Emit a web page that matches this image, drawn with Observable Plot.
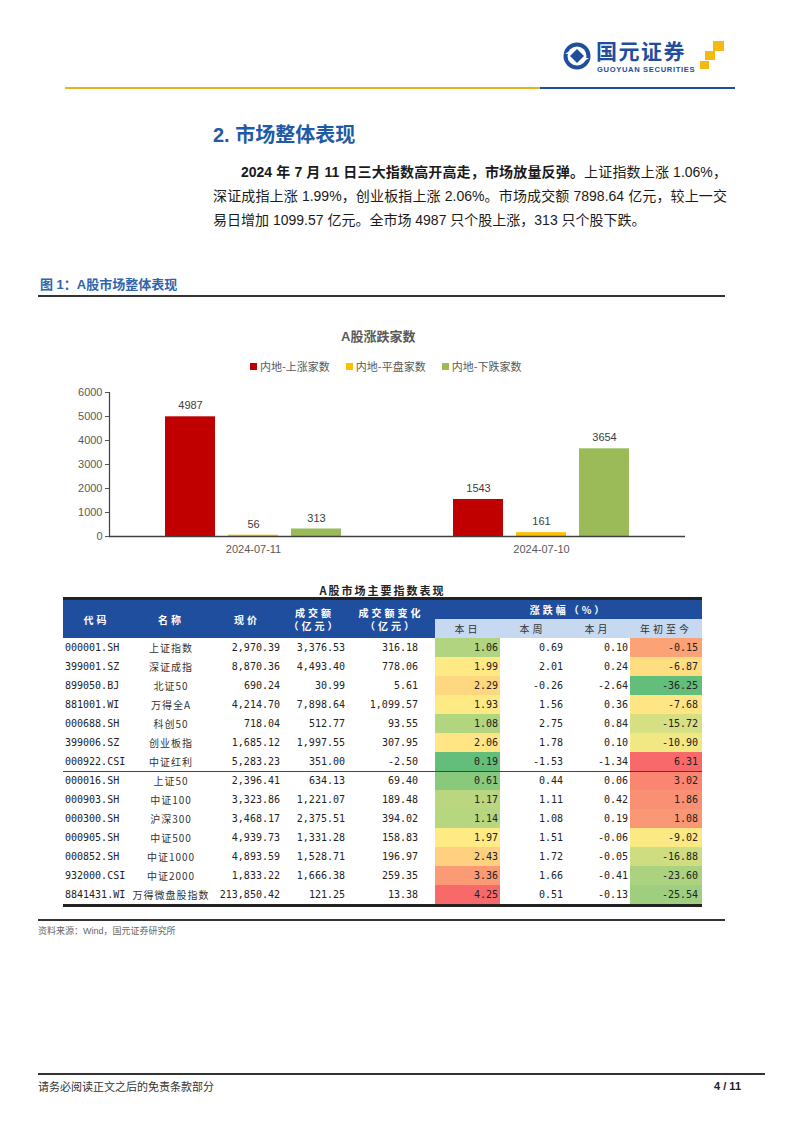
<!DOCTYPE html>
<html>
<head>
<meta charset="utf-8">
<script src="https://cdn.jsdelivr.net/npm/d3@7"></script>
<script src="https://cdn.jsdelivr.net/npm/@observablehq/plot@0.6"></script>
<style>
  html, body { margin: 0; padding: 0; background: #fff; }
  body { width: 802px; height: 1133px; position: relative; overflow: hidden;
         font-family: "Liberation Sans", "Noto Sans CJK SC", sans-serif; color: #222; }
  .abs { position: absolute; white-space: nowrap; }
  .para { position: absolute; left: 213px; width: 514px; font-size: 14px; line-height: 24px; color: #1a1a1a; }
  .para div { text-align: justify; text-align-last: justify; white-space: nowrap; }
  .para div.last { text-align-last: left; }
  table.idx { position: absolute; left: 63px; top: 600px; width: 639px; border-collapse: separate; border-spacing: 0;
              table-layout: fixed; font-family: "DejaVu Sans Mono", "Noto Sans CJK SC", monospace; font-size: 10px; color: #222; }
  table.idx th { background: #1F4E9E; color: #fff; font-family: "Noto Sans CJK SC", sans-serif; font-weight: bold;
                 font-size: 10px; letter-spacing: 3px; height: 19px; padding: 0; line-height: 13px; text-align: center; }
  table.idx th.sub { background: #C6D9F0; color: #333; font-weight: normal; }
  table.idx td { height: 19px; padding: 0; line-height: 19px; white-space: nowrap; overflow: visible; }
  td.code { text-align: left; padding-left: 2px !important; }
  td.name { text-align: center; font-family: "Noto Sans CJK SC", sans-serif; letter-spacing: 1px; color: #333; }
  td.num { text-align: right; padding-right: 2px !important; }
  td.chg { text-align: right; padding-right: 17px !important; }
  td.ytd { text-align: right; padding-right: 4px !important; }
  tr.sep td { box-shadow: inset 0 1px 0 #444; }
  .legend { position: absolute; left: 250px; top: 358px; font-family: "Noto Sans CJK SC", sans-serif; font-size: 11px;
            color: #595959; display: flex; gap: 16px; line-height: 16px; }
  .legend span.sw { display: inline-block; width: 7px; height: 7px; margin-right: 3px; vertical-align: 1px; }
</style>
</head>
<body>
<!-- header -->
<svg class="abs" style="left:562px;top:41px" width="30" height="30" viewBox="0 0 30 30">
  <circle cx="15" cy="15" r="13.5" fill="#1E4E9C"/>
  <circle cx="15" cy="15" r="9.5" fill="#fff"/>
  <path d="M15 8 L22 15 L15 22 L8 15 Z" fill="#1E4E9C"/>
  <path d="M3 13 L9 9 L9 13 Z" fill="#fff"/>
  <path d="M27 17 L21 21 L21 17 Z" fill="#fff"/>
</svg>
<div class="abs" style="left:596px;top:39px;font-family:'Noto Sans CJK SC';font-weight:bold;font-size:21px;line-height:22px;color:#1E4E9C;letter-spacing:1.5px">国元证券</div>
<div class="abs" style="left:597px;top:66px;font-family:'Liberation Sans';font-weight:bold;font-size:7.6px;line-height:8px;color:#1E4E9C;letter-spacing:0.65px">GUOYUAN SECURITIES</div>
<div class="abs" style="left:713px;top:41px;width:11px;height:10px;background:#F5B90F"></div>
<div class="abs" style="left:705px;top:51px;width:10px;height:9px;background:#F5B90F"></div>
<div class="abs" style="left:700px;top:61px;width:9px;height:8px;background:#F5B90F"></div>
<div class="abs" style="left:65px;top:87px;width:475px;height:2px;background:#E9B21E"></div>
<div class="abs" style="left:540px;top:87px;width:195px;height:2px;background:#1E4E9C"></div>

<!-- section title and paragraph -->
<div class="abs" style="left:213px;top:120px;font-size:20px;line-height:28px;font-weight:bold;color:#1F5AA6">2. <span style="font-family:'Noto Sans CJK SC'">市场整体表现</span></div>
<div class="para" style="top:160px">
  <div style="padding-left:28px"><b>2024 年 7 月 11 日三大指数高开高走，市场放量反弹。</b>上证指数上涨 1.06%，</div>
  <div>深证成指上涨 1.99%，创业板指上涨 2.06%。市场成交额 7898.64 亿元，较上一交</div>
  <div class="last">易日增加 1099.57 亿元。全市场 4987 只个股上涨，313 只个股下跌。</div>
</div>

<!-- figure title -->
<div class="abs" style="left:40px;top:275px;font-size:13px;line-height:18px;font-weight:bold;color:#2F64AE">图 1：A<span style="font-family:'Noto Sans CJK SC'">股市场整体表现</span></div>
<div class="abs" style="left:38px;top:295px;width:687px;height:2px;background:#333"></div>

<!-- chart title & legend -->
<div class="abs" style="left:341px;top:327px;font-size:13px;line-height:18px;font-weight:bold;color:#595959">A<span style="font-family:'Noto Sans CJK SC'">股涨跌家数</span></div>
<div class="legend" id="legend"></div>
<div class="abs" id="chart" style="left:0;top:380px"></div>

<!-- table -->
<div class="abs" style="left:63px;top:582px;width:639px;text-align:center;font-family:'Noto Sans CJK SC';font-weight:bold;font-size:11px;line-height:16px;letter-spacing:2px;color:#222">A股市场主要指数表现</div>
<div class="abs" style="left:63px;top:597px;width:639px;height:3px;background:#222"></div>
<table class="idx" id="tbl">
  <colgroup>
    <col style="width:67px"><col style="width:82px"><col style="width:70px"><col style="width:65px"><col style="width:88px">
    <col style="width:65px"><col style="width:65px"><col style="width:65px"><col style="width:72px">
  </colgroup>
  <thead id="thead"></thead>
  <tbody id="tbody"></tbody>
</table>
<div class="abs" style="left:63px;top:904px;width:639px;height:2.5px;background:#222"></div>

<!-- source -->
<div class="abs" style="left:38px;top:919px;width:687px;height:2px;background:#333"></div>
<div class="abs" style="left:38px;top:925px;font-size:9px;line-height:12px;color:#666">资料来源：Wind，国元证券研究所</div>

<!-- footer -->
<div class="abs" style="left:38px;top:1073px;width:727px;height:2px;background:#333"></div>
<div class="abs" style="left:38px;top:1079px;font-family:'Noto Sans CJK SC';font-size:11px;line-height:15px;color:#333">请务必阅读正文之后的免责条款部分</div>
<div class="abs" style="left:700px;top:1079px;width:41px;text-align:right;font-weight:bold;font-size:11px;line-height:15px;color:#222">4 / 11</div>

<script>
// ---------- chart data ----------
const dates = ["2024-07-11", "2024-07-10"];
const series = ["内地-上涨家数", "内地-平盘家数", "内地-下跌家数"];
const upCounts = [4987, 1543];
const flatCounts = [56, 161];
const downCounts = [313, 3654];
const seriesColors = ["#C00000", "#FFC000", "#9BBB59"];
const yTicks = [0, 1000, 2000, 3000, 4000, 5000, 6000];

// ---------- table data ----------
const tableHeaders = ["代码", "名称", "现价", "成交额", "成交额变化"];
const unitLabel = "（亿元）";
const chgHeader = "涨跌幅（%）";
const chgSubHeaders = ["本日", "本周", "本月", "年初至今"];
const codes = ["000001.SH", "399001.SZ", "899050.BJ", "881001.WI", "000688.SH", "399006.SZ", "000922.CSI",
               "000016.SH", "000903.SH", "000300.SH", "000905.SH", "000852.SH", "932000.CSI", "8841431.WI"];
const names = ["上证指数", "深证成指", "北证50", "万得全A", "科创50", "创业板指", "中证红利",
               "上证50", "中证100", "沪深300", "中证500", "中证1000", "中证2000", "万得微盘股指数"];
const prices = [2970.39, 8870.36, 690.24, 4214.70, 718.04, 1685.12, 5283.23,
                2396.41, 3323.86, 3468.17, 4939.73, 4893.59, 1833.22, 213850.42];
const turnover = [3376.53, 4493.40, 30.99, 7898.64, 512.77, 1997.55, 351.00,
                  634.13, 1221.07, 2375.51, 1331.28, 1528.71, 1666.38, 121.25];
const turnoverChange = [316.18, 778.06, 5.61, 1099.57, 93.55, 307.95, -2.50,
                        69.40, 189.48, 394.02, 158.83, 196.97, 259.35, 13.38];
const chgDay = [1.06, 1.99, 2.29, 1.93, 1.08, 2.06, 0.19, 0.61, 1.17, 1.14, 1.97, 2.43, 3.36, 4.25];
const chgWeek = [0.69, 2.01, -0.26, 1.56, 2.75, 1.78, -1.53, 0.44, 1.11, 1.08, 1.51, 1.72, 1.66, 0.51];
const chgMonth = [0.10, 0.24, -2.64, 0.36, 0.84, 0.10, -1.34, 0.06, 0.42, 0.19, -0.06, -0.05, -0.41, -0.13];
const chgYtd = [-0.15, -6.87, -36.25, -7.68, -15.72, -10.90, 6.31, 3.02, 1.86, 1.08, -9.02, -16.88, -23.60, -25.54];
const groupBreak = 7; // separator before row index 7
const heatColors = ["#63BE7B", "#FFEB84", "#F8696B"];

// ---------- legend ----------
const legend = document.getElementById("legend");
series.forEach((s, i) => {
  const item = document.createElement("span");
  item.innerHTML = `<span class="sw" style="background:${seriesColors[i]}"></span>${s}`;
  legend.appendChild(item);
});

// ---------- chart ----------
const barData = dates.flatMap((d, i) => [
  {date: d, series: series[0], value: upCounts[i]},
  {date: d, series: series[1], value: flatCounts[i]},
  {date: d, series: series[2], value: downCounts[i]}
]);

const chart = Plot.plot({
  width: 802,
  height: 185,
  marginLeft: 108,
  marginRight: 117,
  marginTop: 12,
  marginBottom: 29,
  style: {fontFamily: "'Liberation Sans', Arial, sans-serif", fontSize: "11px", color: "#595959", background: "transparent", overflow: "visible"},
  fx: {domain: dates, paddingInner: 0, paddingOuter: 0},
  x: {domain: series, paddingInner: 0.2, paddingOuter: 0.854, axis: null},
  y: {domain: [0, 6000], axis: null},
  color: {domain: series, range: seriesColors},
  marks: [
    Plot.barY(barData, {fx: "date", x: "series", y: "value", fill: "series"}),
    Plot.text(barData, {fx: "date", x: "series", y: "value", text: d => String(d.value), dy: -11, fill: "#404040", fontSize: 11}),
    Plot.ruleY([0], {stroke: "#404040", strokeWidth: 1.3}),
    Plot.frame({anchor: "left", facetAnchor: "left", stroke: "#404040", strokeWidth: 1.2}),
    Plot.axisY({ticks: yTicks, tickSize: 4, tickPadding: 3, tickFormat: d => String(d), anchor: "left", label: null, color: "#595959", fontSize: 11}),
    Plot.axisFx({anchor: "bottom", tickSize: 0, tickPadding: 9, label: null, color: "#595959", fontSize: 11})
  ]
});
document.getElementById("chart").appendChild(chart);

// ---------- table ----------
const fmt = v => v.toLocaleString("en-US", {minimumFractionDigits: 2, maximumFractionDigits: 2});
const heat = vals => d3.scaleLinear()
  .domain([d3.min(vals), d3.median(vals), d3.max(vals)])
  .range(heatColors)
  .interpolate(d3.interpolateRgb);
const dayColor = heat(chgDay);
const ytdColor = heat(chgYtd);

const thead = document.getElementById("thead");
thead.innerHTML =
  `<tr>` +
  tableHeaders.map((h, i) => `<th rowspan="2">${h}${i >= 3 ? "<br>" + unitLabel : ""}</th>`).join("") +
  `<th colspan="4">${chgHeader}</th></tr>` +
  `<tr>` + chgSubHeaders.map(h => `<th class="sub">${h}</th>`).join("") + `</tr>`;

const tbody = document.getElementById("tbody");
codes.forEach((c, i) => {
  const tr = document.createElement("tr");
  if (i === groupBreak) tr.className = "sep";
  tr.innerHTML =
    `<td class="code">${c}</td>` +
    `<td class="name">${names[i]}</td>` +
    `<td class="num">${fmt(prices[i])}</td>` +
    `<td class="num">${fmt(turnover[i])}</td>` +
    `<td class="chg">${fmt(turnoverChange[i])}</td>` +
    `<td class="num" style="background:${dayColor(chgDay[i])}">${fmt(chgDay[i])}</td>` +
    `<td class="num">${fmt(chgWeek[i])}</td>` +
    `<td class="num">${fmt(chgMonth[i])}</td>` +
    `<td class="ytd" style="background:${ytdColor(chgYtd[i])}">${fmt(chgYtd[i])}</td>`;
  tbody.appendChild(tr);
});
</script>
</body>
</html>
